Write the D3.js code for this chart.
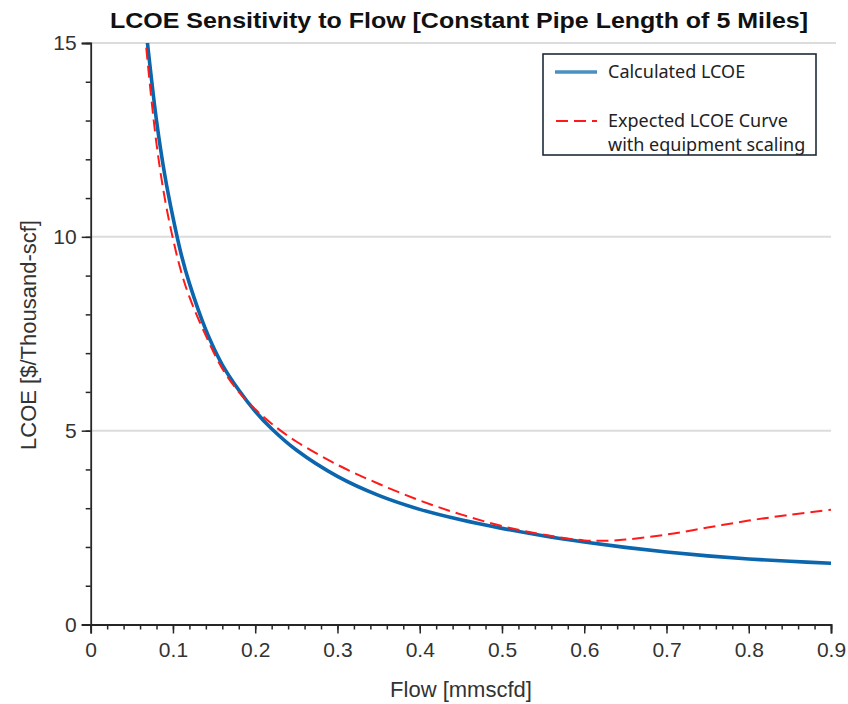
<!DOCTYPE html>
<html><head><meta charset="utf-8">
<script src="https://cdn.jsdelivr.net/npm/d3@7"></script>
<style>body{margin:0;background:#fff}svg{display:block}</style>
</head><body>
<svg id="c" width="848" height="704"></svg>
<script>
const titleText = "LCOE Sensitivity to Flow [Constant Pipe Length of 5 Miles]";
const xLabel = "Flow [mmscfd]";
const yLabel = "LCOE [$/Thousand-scf]";
const xTicks = [0,0.1,0.2,0.3,0.4,0.5,0.6,0.7,0.8,0.9];
const yTicks = [0,5,10,15];
const seriesNames = ["Calculated LCOE", "Expected LCOE Curve", "with equipment scaling"];

const calcX = [0.066,0.069,0.08,0.09,0.10,0.11,0.12,0.14,0.16,0.18,0.20,0.22,0.25,0.30,0.35,0.40,0.45,0.50,0.55,0.60,0.65,0.70,0.75,0.80,0.85,0.90];
const calcY = [15.6,15.0,13.0,11.6,10.5,9.55,8.8,7.6,6.7,6.05,5.5,5.05,4.5,3.82,3.33,2.97,2.70,2.48,2.29,2.13,1.99,1.87,1.77,1.69,1.63,1.58];

const expX = [0.064,0.067,0.08,0.09,0.10,0.11,0.12,0.14,0.16,0.18,0.20,0.22,0.25,0.30,0.35,0.40,0.45,0.50,0.55,0.60,0.625,0.65,0.70,0.75,0.80,0.85,0.90];
const expY = [15.8,15.0,12.4,11.0,9.95,9.1,8.45,7.45,6.6,6.0,5.55,5.18,4.72,4.12,3.63,3.2,2.84,2.54,2.32,2.17,2.16,2.19,2.32,2.5,2.68,2.83,2.96];

const svg = d3.select("#c");
const m = {l:90.7, r:831, t:43, b:624.5};
const x = d3.scaleLinear().domain([0,0.9]).range([m.l,m.r]);
const y = d3.scaleLinear().domain([0,15]).range([m.b,m.t]);
const font = "'Liberation Sans', Arial, sans-serif";
const axisCol = "#262626";

// gridlines
svg.append("g").selectAll("line").data(yTicks.filter(d=>d>0)).join("line")
  .attr("x1",m.l).attr("x2",d=>d===15?836:m.r)
  .attr("y1",d=>y(d)).attr("y2",d=>y(d))
  .attr("stroke","#dcdcdc").attr("stroke-width",2);

// clip
svg.append("clipPath").attr("id","clip").append("rect")
  .attr("x",m.l).attr("y",m.t).attr("width",m.r-m.l+2).attr("height",m.b-m.t);

const line = d3.line().x(d=>x(d[0])).y(d=>y(d[1])).curve(d3.curveCatmullRom.alpha(0.5));
const calc = calcX.map((v,i)=>[v,calcY[i]]);
const exp = expX.map((v,i)=>[v,expY[i]]);

const plot = svg.append("g").attr("clip-path","url(#clip)");
plot.append("path").datum(calc).attr("d",line).attr("fill","none")
  .attr("stroke","#0b66ad").attr("stroke-width",3.6);
plot.append("path").datum(exp).attr("d",line).attr("fill","none")
  .attr("stroke","#ff1a1a").attr("stroke-width",2).attr("stroke-dasharray","12,6");

// axes
const xMinor = d3.range(0,0.9001,0.02);
const gxm = svg.append("g").attr("transform",`translate(0,${m.b})`)
  .call(d3.axisBottom(x).tickValues(xMinor).tickSize(5).tickFormat(""));
const xAxis = d3.axisBottom(x).tickValues(xTicks).tickSize(9).tickPadding(9)
  .tickFormat(d=>d===0?"0":d3.format(".1f")(d));
const gx = svg.append("g").attr("transform",`translate(0,${m.b})`).call(xAxis);

const yMinor = d3.range(0,15.001,1);
const gym = svg.append("g").attr("transform",`translate(${m.l},0)`)
  .call(d3.axisLeft(y).tickValues(yMinor).tickSize(5).tickFormat(""));
const gy = svg.append("g").attr("transform",`translate(${m.l},0)`)
  .call(d3.axisLeft(y).tickValues(yTicks).tickSize(9).tickPadding(5));

[gx,gy,gxm,gym].forEach(g=>{
  g.selectAll(".domain").attr("stroke",axisCol).attr("stroke-width",1.8);
  g.selectAll(".tick line").attr("stroke",axisCol).attr("stroke-width",1.5);
  g.selectAll("text").attr("font-family",font).attr("font-size",21).attr("fill","#333");
});
gym.select(".domain").remove(); gxm.select(".domain").remove();

// title
svg.append("text").attr("x",459).attr("y",28).attr("text-anchor","middle")
  .attr("font-family",font).attr("font-weight","bold").attr("font-size",22)
  .attr("textLength",698).attr("lengthAdjust","spacingAndGlyphs")
  .attr("fill","#111").text(titleText);

// axis labels
svg.append("text").attr("x",461).attr("y",697).attr("text-anchor","middle")
  .attr("font-family",font).attr("font-size",22).attr("fill","#333").text(xLabel);
svg.append("text").attr("transform","translate(36,335) rotate(-90)").attr("text-anchor","middle")
  .attr("font-family",font).attr("font-size",22).attr("fill","#333").text(yLabel);

// legend
const lg = svg.append("g");
lg.append("rect").attr("x",543).attr("y",54).attr("width",273).attr("height",101)
  .attr("fill","#fff").attr("stroke","#1c2b3a").attr("stroke-width",1.6);
lg.append("line").attr("x1",555).attr("x2",597).attr("y1",72).attr("y2",72)
  .attr("stroke","#4a8fc0").attr("stroke-width",3.6);
lg.append("line").attr("x1",556).attr("x2",597).attr("y1",121).attr("y2",121)
  .attr("stroke","#ff1a1a").attr("stroke-width",2).attr("stroke-dasharray","12,6");
const lf = "'Noto Sans', 'Open Sans', sans-serif";
lg.append("text").attr("x",608).attr("y",78).attr("font-family",lf).attr("font-size",18).attr("fill","#222").text(seriesNames[0]);
lg.append("text").attr("x",608).attr("y",127).attr("font-family",lf).attr("font-size",18).attr("fill","#222").text(seriesNames[1]);
lg.append("text").attr("x",608).attr("y",151).attr("font-family",lf).attr("font-size",18).attr("fill","#222").text(seriesNames[2]);
</script>
</body></html>
